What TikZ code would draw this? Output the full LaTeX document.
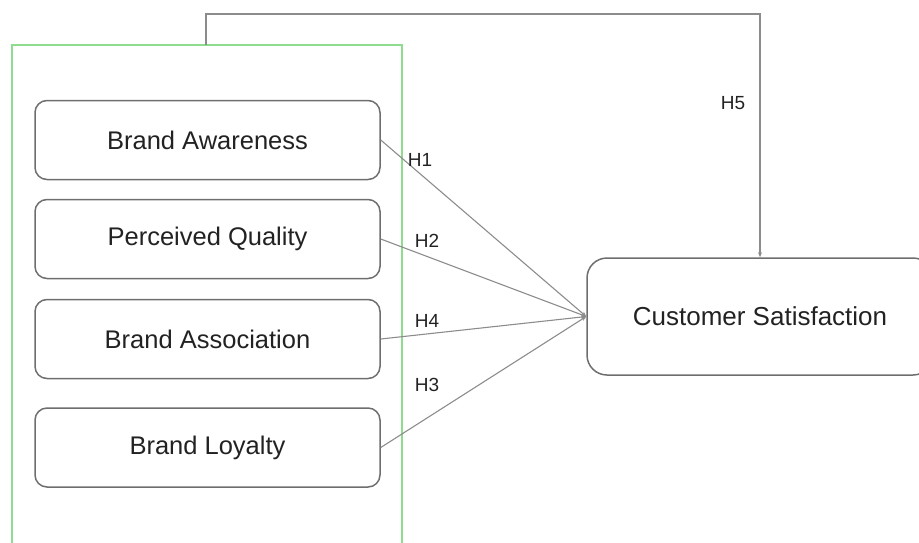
\documentclass[tikz,border=0pt]{standalone}
\usepackage{fontspec}
\setmainfont{Liberation Sans}
\usetikzlibrary{arrows.meta}
\definecolor{boxline}{HTML}{6E6E6E}
\definecolor{linkline}{HTML}{8C8C8C}
\definecolor{groupline}{HTML}{8EDC8E}
\definecolor{txt}{HTML}{222222}
\begin{document}
\begin{tikzpicture}[x=1pt,y=-1pt,
  construct/.style={draw=boxline,line width=1.5pt,rounded corners=12pt,
    minimum width=345pt,minimum height=79pt,inner sep=0pt,
    text=txt,font=\fontsize{25.5}{29}\selectfont},
  outcome/.style={draw=boxline,line width=1.5pt,rounded corners=20pt,
    minimum width=346pt,minimum height=117pt,inner sep=0pt,
    text=txt,font=\fontsize{26}{30}\selectfont},
  link/.style={draw=linkline,line width=1.1pt,-{Stealth[length=5pt,width=4pt]}},
  hyp/.style={text=txt,font=\fontsize{19}{22}\selectfont,inner sep=0pt}]
\clip (0,0) rectangle (919,542);
\useasboundingbox (0,0) rectangle (919,542);
% group of brand equity dimensions
\draw[groupline,line width=1.5pt] (12,545) -- (12,45) -- (402,45) -- (402,545);
% constructs
\node[construct] (aw) at (207.5,140) {Brand Awareness};
\node[construct] (pq) at (207.5,239) {Perceived Quality};
\node[construct] (as) at (207.5,339) {Brand Association};
\node[construct] (lo) at (207.5,447.5) {Brand Loyalty};
\node[outcome] (cs) at (760,316.5) {Customer Satisfaction};
\coordinate (grouptop) at (206,45);
\coordinate (in) at (cs.west);
% hypotheses
\draw[link] (aw.east) -- (in);
\draw[link] (pq.east) -- (in);
\draw[link] (as.east) -- (in);
\draw[link] (lo.east) -- (in);
\draw[link] (grouptop) |- (760,14) -- (cs.north);
\node[hyp] (h1) at (420,160) {H1};
\node[hyp] (h2) at (427,241) {H2};
\node[hyp] (h4) at (427,321) {H4};
\node[hyp] (h3) at (427,385) {H3};
\node[hyp] (h5) at (733,103) {H5};
\end{tikzpicture}
\end{document}
